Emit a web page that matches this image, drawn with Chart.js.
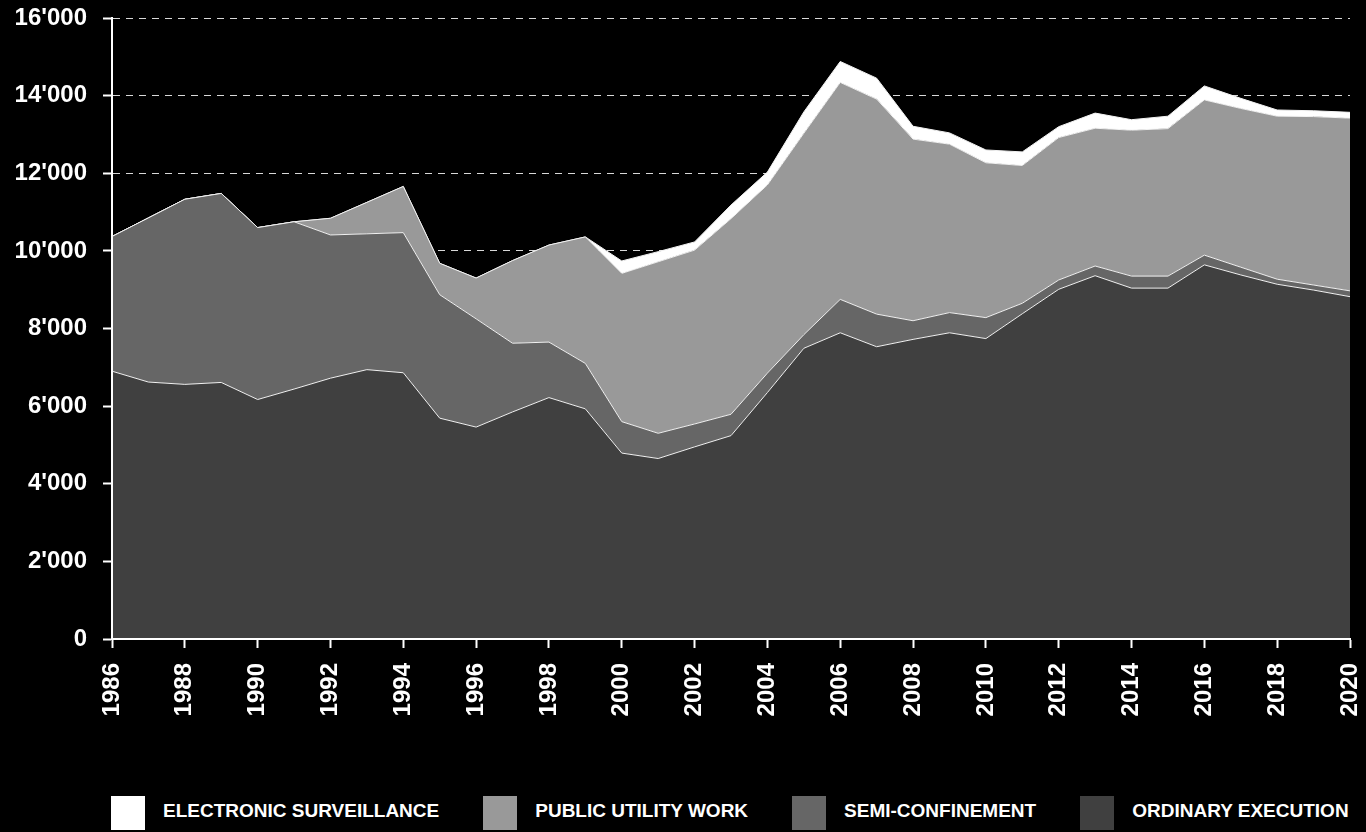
<!DOCTYPE html>
<html>
<head>
<meta charset="utf-8">
<script src="https://cdn.jsdelivr.net/npm/chart.js@4/dist/chart.umd.min.js"></script>
<style>
  body { margin: 0; background: #000; overflow: hidden; }
  #wrap { position: relative; width: 1366px; height: 832px; }
  #legend { position: absolute; left: 111px; top: 796px; display: flex; }
  .item { display: flex; align-items: flex-start; margin-right: 44px; }
  .box { width: 34px; height: 34px; }
  .txt { margin-left: 18px; line-height: 34px; position: relative; top: 4px;
         font: bold 19px "Liberation Sans", Arial, sans-serif; color: #fff; white-space: nowrap; }
</style>
</head>
<body>
<div id="wrap">
  <canvas id="chart" width="1366" height="740"></canvas>
  <div id="legend"></div>
</div>
<script>
var years = [];
for (var y = 1986; y <= 2020; y++) years.push(y);

// persons per year
var ordinary = [6900, 6620, 6560, 6610, 6170, 6440, 6720, 6940, 6860, 5690,
  5460, 5850, 6220, 5930, 4790, 4650, 4950, 5240, 6350, 7490,
  7890, 7530, 7720, 7890, 7740, 8380, 9010, 9360, 9040, 9040,
  9640, 9380, 9140, 8990, 8820];
var semiConfinement = [3470, 4230, 4770, 4870, 4430, 4310, 3690, 3500, 3610, 3180,
  2790, 1770, 1430, 1170, 810, 650, 590, 550, 500, 350,
  860, 840, 480, 520, 540, 270, 240, 250, 310, 310,
  250, 200, 130, 130, 150];
var publicWork = [0, 0, 0, 0, 0, 0, 430, 810, 1190, 810,
  1050, 2130, 2500, 3260, 3820, 4420, 4480, 5040, 4850, 5190,
  5590, 5540, 4680, 4340, 3990, 3550, 3670, 3550, 3760, 3800,
  4000, 4090, 4200, 4340, 4450];
var electronic = [0, 0, 0, 0, 0, 0, 0, 0, 0, 0,
  0, 0, 0, 0, 320, 260, 210, 350, 330, 550,
  540, 540, 330, 290, 330, 350, 280, 390, 270, 320,
  360, 260, 160, 150, 150];

var seriesNames = ["ORDINARY EXECUTION", "SEMI-CONFINEMENT", "PUBLIC UTILITY WORK", "ELECTRONIC SURVEILLANCE"];
var seriesColors = ["#404040", "#666666", "#999999", "#ffffff"];

function thousands(v) {
  return String(v).replace(/\B(?=(\d{3})+(?!\d))/g, "'");
}

// axis lines on top of the filled areas
var axisLines = {
  id: "axisLines",
  afterDatasetsDraw: function(chart) {
    var ctx = chart.ctx;
    var a = chart.chartArea;
    ctx.save();
    ctx.strokeStyle = "#fff";
    ctx.lineWidth = 2;
    ctx.beginPath();
    ctx.moveTo(a.left, a.top);
    ctx.lineTo(a.left, a.bottom);
    ctx.lineTo(a.right, a.bottom);
    ctx.stroke();
    ctx.restore();
  }
};

var allData = [ordinary, semiConfinement, publicWork, electronic];
var datasets = allData.map(function(d, i) {
  return {
    label: seriesNames[i],
    data: d,
    backgroundColor: seriesColors[i],
    borderColor: "#f2f2f2",
    borderWidth: 1,
    fill: i === 0 ? "origin" : "-1",
    pointRadius: 0,
    tension: 0
  };
});

var tickFont = { family: "'Liberation Sans', Arial, sans-serif", size: 24, weight: "bold" };

var chart = new Chart(document.getElementById("chart"), {
  type: "line",
  data: { labels: years, datasets: datasets },
  options: {
    responsive: false,
    animation: false,
    layout: { padding: 0 },
    plugins: { legend: { display: false }, tooltip: { enabled: false } },
    scales: {
      x: {
        type: "linear",
        min: 1986,
        max: 2020,
        afterFit: function(s) {
          s.height = 101;
          s.paddingLeft = 0;
          s.paddingRight = 16;
        },
        grid: { drawOnChartArea: false, tickLength: 9, tickColor: "#fff", tickWidth: 2 },
        border: { color: "#fff", width: 2 },
        ticks: {
          stepSize: 2,
          minRotation: 90,
          maxRotation: 90,
          padding: 15,
          color: "#fff",
          font: tickFont,
          callback: function(v) { return String(v); }
        }
      },
      y: {
        stacked: true,
        min: 0,
        max: 16000,
        afterFit: function(s) {
          s.width = 112;
          s.paddingTop = 18;
          s.paddingBottom = 0;
        },
        grid: { color: "#d8d8d8", lineWidth: 1, tickLength: 9, tickColor: "#fff", tickWidth: 2 },
        border: { color: "#fff", width: 2, dash: [7, 6] },
        ticks: {
          stepSize: 2000,
          padding: 16,
          color: "#fff",
          font: tickFont,
          callback: function(v) { return thousands(v); }
        }
      }
    }
  },
  plugins: [axisLines]
});

// html legend, top series first
var legend = document.getElementById("legend");
chart.data.datasets.slice().reverse().forEach(function(ds) {
  var item = document.createElement("div");
  item.className = "item";
  var box = document.createElement("div");
  box.className = "box";
  box.style.background = ds.backgroundColor;
  var txt = document.createElement("span");
  txt.className = "txt";
  txt.textContent = ds.label;
  item.appendChild(box);
  item.appendChild(txt);
  legend.appendChild(item);
});
</script>
</body>
</html>
